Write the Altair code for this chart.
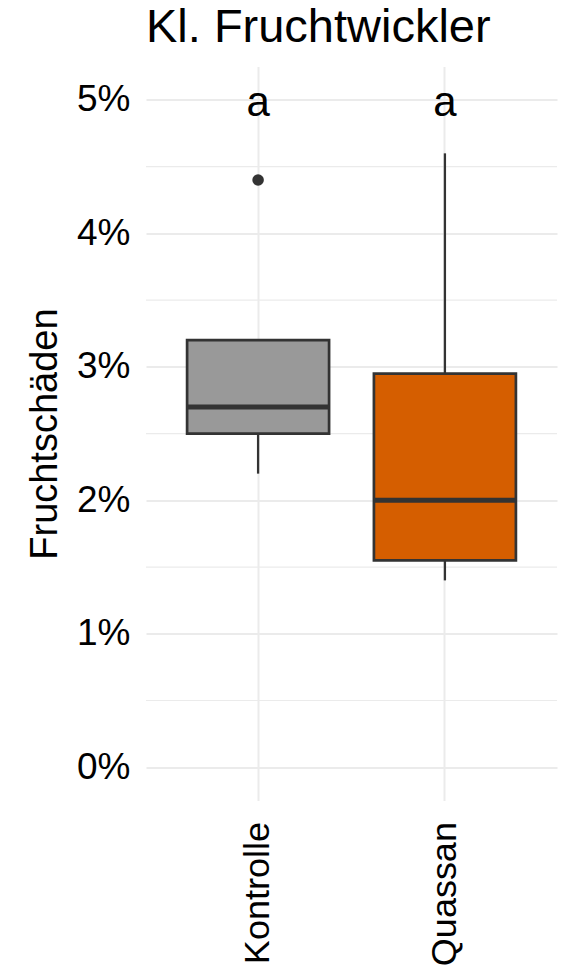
import altair as alt
import pandas as pd

categories = ["Kontrolle", "Quassan"]
lower = [2.2, 1.4]
q1 = [2.5, 1.55]
median = [2.7, 2.0]
q3 = [3.2, 2.95]
upper = [3.2, 4.6]
fills = ["#999999", "#D55E00"]
outlier_group = ["Kontrolle"]
outlier_value = [4.4]
letters = ["a", "a"]
letter_y = [5, 5]
major_ticks = [0, 1, 2, 3, 4, 5]
minor_ticks = [0.5, 1.5, 2.5, 3.5, 4.5]

stats = pd.DataFrame({"group": categories, "lower": lower, "q1": q1,
                      "median": median, "q3": q3, "upper": upper,
                      "letter": letters, "ly": letter_y})
outl = pd.DataFrame({"group": outlier_group, "value": outlier_value})
minor = pd.DataFrame({"v": minor_ticks})

FONT = "Liberation Sans"
W, H = 411, 734

xscale = alt.Scale(domain=categories, paddingInner=0.24, paddingOuter=0.22)
yscale = alt.Scale(domain=[-0.25, 5.25], nice=False, zero=False)

xenc = alt.X("group:N", scale=xscale, title=None,
             axis=alt.Axis(labelAngle=-90, labelFontSize=36, labelFont=FONT,
                           labelColor="black", labelPadding=21, ticks=False,
                           tickSize=0, domain=False, grid=True, gridColor="#EBEBEB",
                           gridWidth=2, bandPosition=0.5))
yaxis = alt.Axis(values=major_ticks, labelExpr="datum.value + '%'",
                 labelFontSize=37, labelFont=FONT, labelColor="black",
                 labelPadding=16, ticks=False, tickSize=0, domain=False,
                 grid=True, gridColor="#EBEBEB", gridWidth=2,
                 title="Fruchtschäden", titleFontSize=38, titleFont=FONT,
                 titleColor="black", titleFontWeight="normal",
                 titleX=-90, titleY=H / 2, titleBaseline="alphabetic")

base = alt.Chart(stats)

minor_grid = alt.Chart(minor).mark_rule(color="#EBEBEB", strokeWidth=1.2).encode(
    y=alt.Y("v:Q", scale=yscale, axis=yaxis))

whisk_lo = base.mark_rule(color="#333333", strokeWidth=2.3).encode(
    x=xenc, y=alt.Y("lower:Q", scale=yscale), y2="q1:Q")
whisk_hi = base.mark_rule(color="#333333", strokeWidth=2.3).encode(
    x=xenc, y=alt.Y("q3:Q", scale=yscale), y2="upper:Q")

box = base.mark_bar(stroke="#333333", strokeWidth=2.7, opacity=1).encode(
    x=xenc, y=alt.Y("q1:Q", scale=yscale), y2="q3:Q",
    fill=alt.Fill("group:N", scale=alt.Scale(domain=categories, range=fills), legend=None))

med = base.mark_tick(color="#333333", thickness=5, size=142, opacity=1).encode(
    x=xenc, y=alt.Y("median:Q", scale=yscale))

pts = alt.Chart(outl).mark_point(filled=True, color="#333333", size=133, opacity=1).encode(
    x=xenc, y=alt.Y("value:Q", scale=yscale))

txt = base.mark_text(fontSize=42, font=FONT, color="black", baseline="alphabetic", dy=16).encode(
    x=xenc, y=alt.Y("ly:Q", scale=yscale), text="letter:N")

chart = alt.layer(minor_grid, whisk_lo, whisk_hi, box, med, pts, txt).properties(
    width=W, height=H,
    title=alt.TitleParams("Kl. Fruchtwickler", anchor="start", frame="group",
                          fontSize=47, font=FONT, fontWeight="normal", color="black",
                          offset=15),
    autosize=alt.AutoSizeParams(type="none"),
    padding={"left": 138, "top": 58.6, "right": 2, "bottom": 168},
).configure_view(stroke=None)

chart.save("out.html", embed_options={"renderer": "svg", "actions": False})
